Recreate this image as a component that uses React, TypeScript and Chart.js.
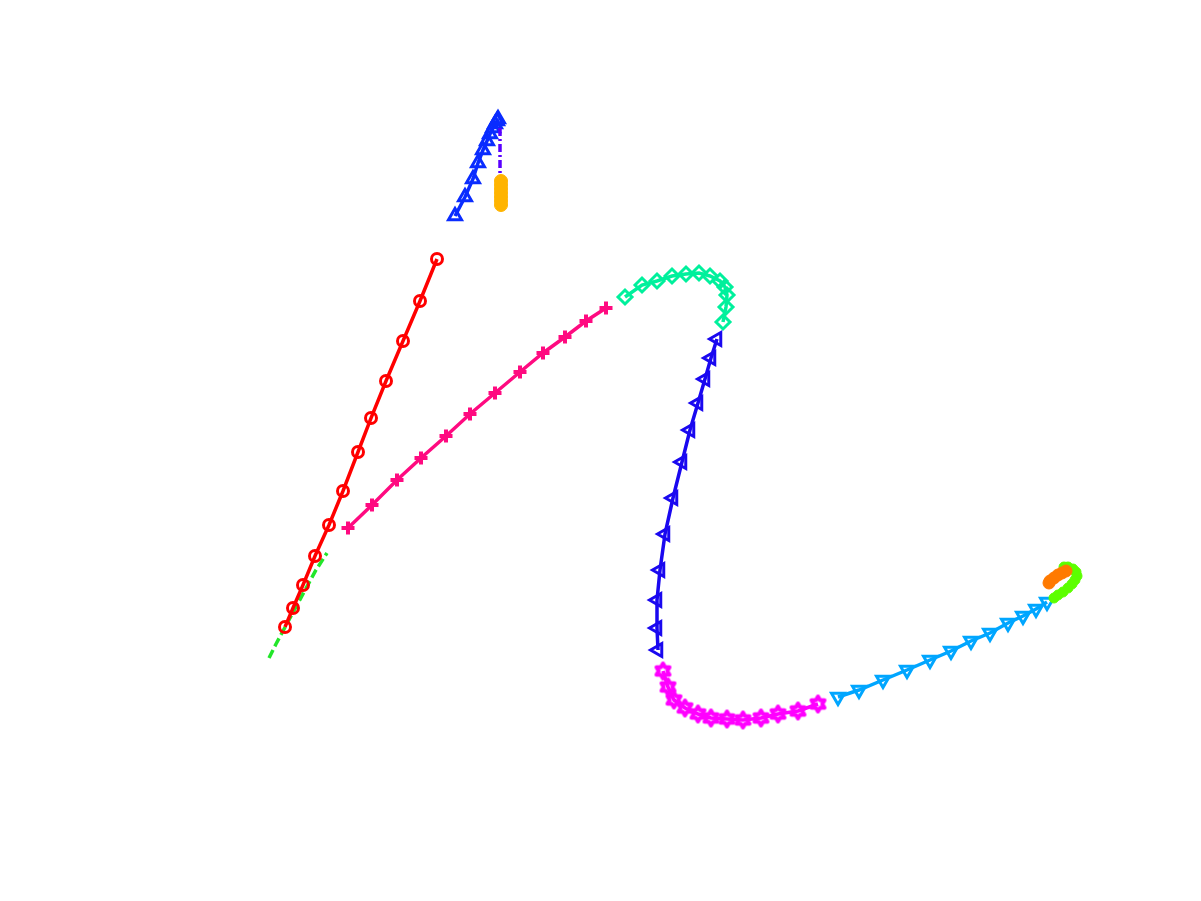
import React, { useEffect, useRef } from "react";
import { Chart, registerables } from "chart.js";

Chart.register(...registerables);

// Trajectory segments (data units: x 0..120.1, y 0..90.1)
const greenDashX = [26.9, 27.6, 29.0, 30.4, 31.6, 32.7];
const greenDashY = [24.3, 25.7, 28.3, 30.9, 33.1, 34.8];

const redX = [28.5, 29.3, 30.3, 31.5, 32.9, 34.3, 35.8, 37.1, 38.6, 40.3, 42.0, 43.7];
const redY = [27.4, 29.3, 31.6, 34.5, 37.6, 41.0, 44.9, 48.3, 52.0, 56.0, 60.0, 64.2];

const upTriX = [45.5, 46.5, 47.3, 47.8, 48.3, 48.7, 49.0, 49.3, 49.5, 49.7, 49.8];
const upTriY = [68.5, 70.4, 72.2, 73.8, 75.1, 76.0, 76.7, 77.3, 77.7, 78.0, 78.2];

const purpleX = [50.0, 50.0];
const purpleY = [77.3, 72.6];

const goldX = [50.1, 50.1, 50.1, 50.1, 50.1, 50.1, 50.1];
const goldY = [72.0, 71.6, 71.2, 70.8, 70.4, 70.0, 69.6];

const pinkX = [34.8, 37.2, 39.7, 42.1, 44.6, 47.0, 49.5, 52.0, 54.3, 56.5, 58.6, 60.6];
const pinkY = [37.3, 39.6, 42.1, 44.3, 46.5, 48.7, 50.8, 52.9, 54.8, 56.4, 58.0, 59.3];

const tealX = [62.5, 64.2, 65.7, 67.2, 68.6, 69.9, 71.0, 72.0, 72.5, 72.7, 72.6, 72.3];
const tealY = [60.4, 61.6, 62.0, 62.5, 62.7, 62.8, 62.5, 62.0, 61.4, 60.6, 59.4, 57.9];

const leftTriX = [71.7, 71.1, 70.5, 69.8, 69.0, 68.2, 67.3, 66.5, 66.0, 65.7, 65.7, 65.8];
const leftTriY = [56.2, 54.3, 52.2, 49.8, 47.1, 43.9, 40.3, 36.7, 33.1, 30.1, 27.3, 25.1];

const magentaX = [66.3, 66.8, 67.4, 68.5, 69.8, 71.1, 72.7, 74.3, 76.1, 77.8, 79.8, 81.8];
const magentaY = [23.0, 21.4, 20.1, 19.3, 18.7, 18.3, 18.2, 18.1, 18.3, 18.7, 19.0, 19.7];

const downTriX = [83.8, 85.9, 88.3, 90.7, 93.0, 95.1, 97.1, 99.0, 100.8, 102.3, 103.6, 104.7];
const downTriY = [20.4, 21.1, 22.1, 23.1, 24.1, 25.0, 26.0, 26.8, 27.8, 28.5, 29.2, 29.9];

const limeX = [105.4, 105.8, 106.3, 106.8, 107.2, 107.5, 107.7, 107.6, 107.3, 106.8, 106.4];
const limeY = [30.3, 30.6, 30.9, 31.3, 31.7, 32.1, 32.5, 32.9, 33.2, 33.4, 33.4];

const orangeX = [106.6, 106.2, 105.8, 105.4, 105.0, 104.9];
const orangeY = [33.0, 32.8, 32.6, 32.3, 32.0, 31.8];

const X_MIN = 0;
const X_MAX = 120.1;
const Y_MIN = 0;
const Y_MAX = 90.1;

function pts(xs: number[], ys: number[]) {
  return xs.map((x, i) => ({ x, y: ys[i] }));
}

function makeHexagram(color: string, r: number, lw: number): HTMLCanvasElement {
  const size = Math.ceil(2 * r + 2 * lw + 2);
  const c = document.createElement("canvas");
  c.width = size;
  c.height = size;
  const ctx = c.getContext("2d")!;
  const cx = size / 2;
  const cy = size / 2;
  const inner = r / Math.sqrt(3);
  ctx.beginPath();
  for (let k = 0; k < 12; k++) {
    const ang = -Math.PI / 2 + (k * Math.PI) / 6;
    const rr = k % 2 === 0 ? r : inner;
    const px = cx + rr * Math.cos(ang);
    const py = cy + rr * Math.sin(ang);
    if (k === 0) ctx.moveTo(px, py);
    else ctx.lineTo(px, py);
  }
  ctx.closePath();
  ctx.strokeStyle = color;
  ctx.lineWidth = lw;
  ctx.lineJoin = "round";
  ctx.stroke();
  return c;
}

export default function App() {
  const canvasRef = useRef<HTMLCanvasElement | null>(null);

  useEffect(() => {
    if (!canvasRef.current) return;
    const hexagram = makeHexagram("#ff00ff", 7.5, 4);
    const clear = "rgba(0,0,0,0)";

    const datasets: any[] = [
      {
        label: "segment 1",
        data: pts(greenDashX, greenDashY),
        borderColor: "#22e62a",
        borderWidth: 3.5,
        borderDash: [9, 4],
        pointRadius: 0,
      },
      {
        label: "segment 2",
        data: pts(redX, redY),
        borderColor: "#ff0000",
        borderWidth: 3.5,
        pointStyle: "circle",
        pointRadius: 5.5,
        pointBorderWidth: 3,
        pointBorderColor: "#ff0000",
        pointBackgroundColor: clear,
      },
      {
        label: "segment 3",
        data: pts(upTriX, upTriY),
        borderColor: "#0a2cff",
        borderWidth: 3.5,
        pointStyle: "triangle",
        pointRadius: 7.5,
        pointBorderWidth: 3,
        pointBorderColor: "#0a2cff",
        pointBackgroundColor: clear,
      },
      {
        label: "segment 4",
        data: pts(purpleX, purpleY),
        borderColor: "#5a00ff",
        borderWidth: 3.5,
        borderDash: [8, 3, 2, 3],
        pointRadius: 0,
      },
      {
        label: "segment 5",
        data: pts(goldX, goldY),
        borderColor: "#ffb400",
        borderWidth: 3,
        pointStyle: "circle",
        pointRadius: 6.5,
        pointBorderWidth: 1,
        pointBorderColor: "#ffb400",
        pointBackgroundColor: "#ffb400",
      },
      {
        label: "segment 6",
        data: pts(pinkX, pinkY),
        borderColor: "#ff0a80",
        borderWidth: 3.5,
        pointStyle: "cross",
        pointRadius: 6.5,
        pointBorderWidth: 4,
        pointBorderColor: "#ff0a80",
        pointBackgroundColor: clear,
      },
      {
        label: "segment 7",
        data: pts(tealX, tealY),
        borderColor: "#00f09c",
        borderWidth: 3.5,
        pointStyle: "rectRot",
        pointRadius: 7,
        pointBorderWidth: 3,
        pointBorderColor: "#00f09c",
        pointBackgroundColor: clear,
      },
      {
        label: "segment 8",
        data: pts(leftTriX, leftTriY),
        borderColor: "#1a08f0",
        borderWidth: 3.5,
        pointStyle: "triangle",
        pointRotation: -90,
        pointRadius: 7.5,
        pointBorderWidth: 3,
        pointBorderColor: "#1a08f0",
        pointBackgroundColor: clear,
      },
      {
        label: "segment 9",
        data: pts(magentaX, magentaY),
        borderColor: "#ff00ff",
        borderWidth: 3.5,
        pointStyle: hexagram,
        pointRadius: 8,
        pointBorderColor: "#ff00ff",
        pointBackgroundColor: clear,
      },
      {
        label: "segment 10",
        data: pts(downTriX, downTriY),
        borderColor: "#00a6ff",
        borderWidth: 3.5,
        pointStyle: "triangle",
        pointRotation: 180,
        pointRadius: 7.5,
        pointBorderWidth: 3,
        pointBorderColor: "#00a6ff",
        pointBackgroundColor: clear,
      },
      {
        label: "segment 11",
        data: pts(limeX, limeY),
        borderColor: "#5cff00",
        borderWidth: 3,
        pointStyle: "circle",
        pointRadius: 5,
        pointBorderWidth: 1,
        pointBorderColor: "#5cff00",
        pointBackgroundColor: "#5cff00",
      },
      {
        label: "segment 12",
        data: pts(orangeX, orangeY),
        borderColor: "#ff7a00",
        borderWidth: 3,
        pointStyle: "circle",
        pointRadius: 6,
        pointBorderWidth: 1,
        pointBorderColor: "#ff7a00",
        pointBackgroundColor: "#ff7a00",
      },
    ];

    const n = datasets.length;
    datasets.forEach((d, i) => {
      d.showLine = true;
      d.fill = false;
      d.tension = 0;
      d.order = n - i;
      d.backgroundColor = d.borderColor;
    });

    const chart = new Chart(canvasRef.current, {
      type: "scatter",
      data: { datasets },
      options: {
        animation: false,
        responsive: true,
        maintainAspectRatio: false,
        events: [],
        layout: { padding: 0, autoPadding: false },
        plugins: {
          legend: { display: false },
          tooltip: { enabled: false },
          title: { display: false },
        },
        scales: {
          x: { type: "linear", min: X_MIN, max: X_MAX, display: false },
          y: { type: "linear", min: Y_MIN, max: Y_MAX, display: false },
        },
      },
    });
    return () => chart.destroy();
  }, []);

  return (
    <div
      style={{
        position: "fixed",
        left: 0,
        top: 0,
        width: 1201,
        height: 901,
        background: "#ffffff",
      }}
    >
      <canvas ref={canvasRef} />
    </div>
  );
}
